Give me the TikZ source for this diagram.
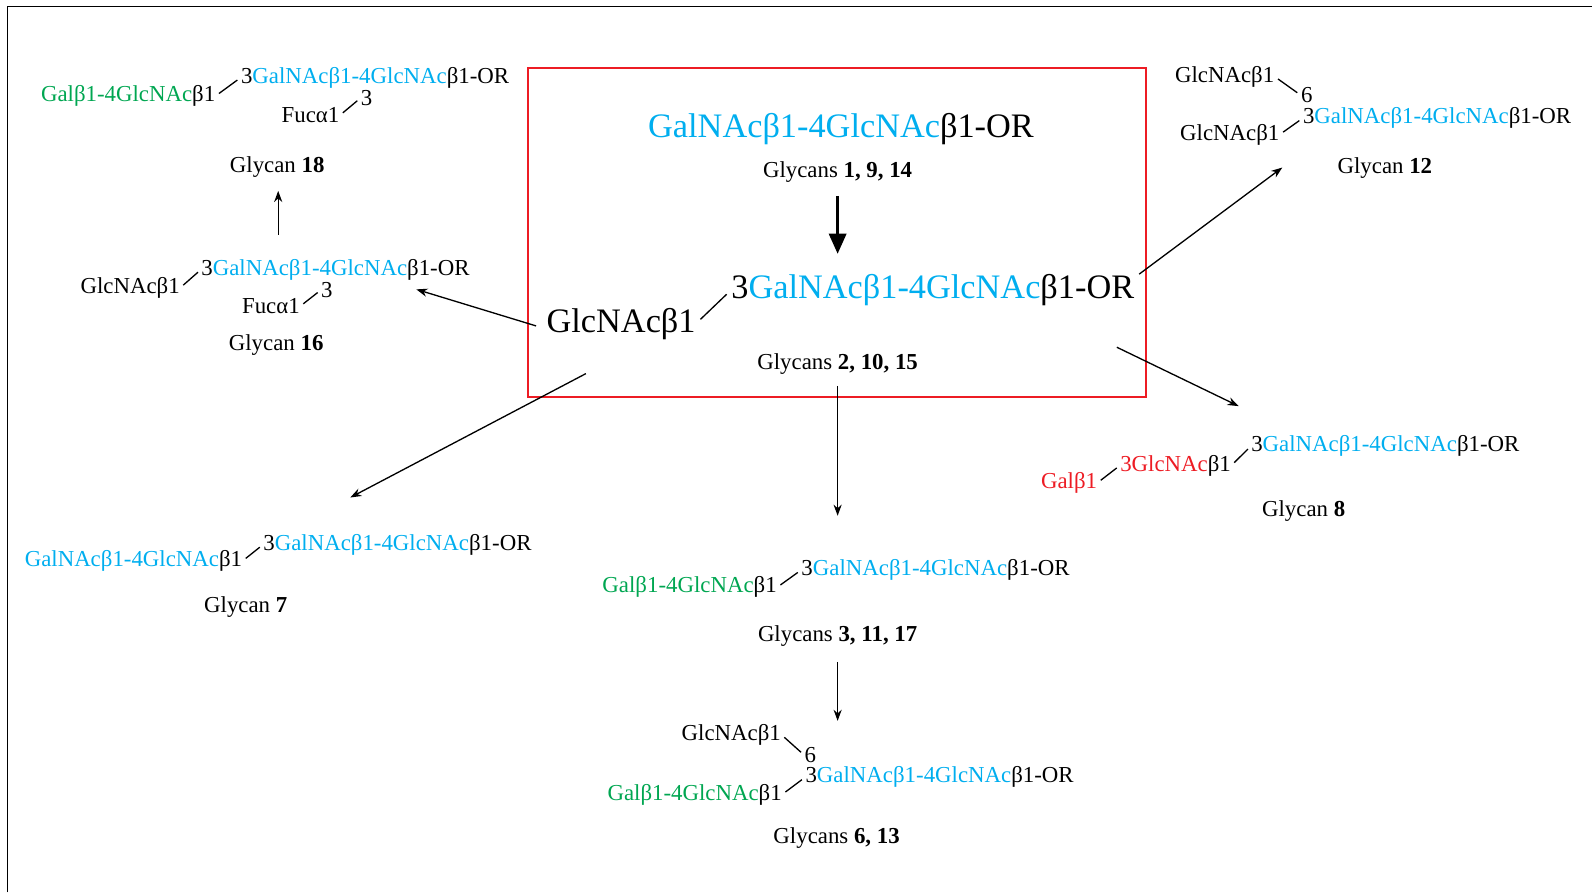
\documentclass[tikz,border=0pt]{standalone}
\usepackage{fontspec}
\setmainfont{Liberation Serif}
\usetikzlibrary{arrows.meta}
\definecolor{glcyan}{RGB}{0,174,239}
\definecolor{glgreen}{RGB}{0,166,81}
\definecolor{glred}{RGB}{237,28,36}
\newcommand{\cyn}[1]{\textcolor{glcyan}{#1}}
\newcommand{\grn}[1]{\textcolor{glgreen}{#1}}
\newcommand{\rdn}[1]{\textcolor{glred}{#1}}
\newcommand{\glcore}{3\cyn{GalNAcβ1-4GlcNAc}β1-OR}
\tikzset{
sugar/.style={inner sep=0pt, anchor=base west, font=\fontsize{11.25}{13}\selectfont},
bigsugar/.style={sugar, font=\fontsize{16.9}{20}\selectfont},
glabel/.style={inner sep=0pt, anchor=base, font=\fontsize{11.25}{13}\selectfont},
link/.style={line width=0.65pt, shorten <=2pt, shorten >=2pt},
arrow/.style={line width=0.65pt, -{Stealth[length=5.5pt,width=4pt]}},
bigarrow/.style={line width=1.5pt, -{Triangle[length=10pt,width=8.5pt]}},
redbox/.style={draw=glred, line width=0.8pt}
      }

\begin{document}
\begin{tikzpicture}[x=0.5pt,y=-0.5pt]
                \useasboundingbox (0,0) rectangle (1568,879);
                \draw[line width=0.5pt] (7,879) -- (7,6) -- (1568,6);
                % acceptor and first product
                \draw[redbox] (520,67) rectangle (1129,391);
                \node[bigsugar] (acc) at (638,135) {\cyn{GalNAcβ1-4GlcNAc}β1-OR};
                \node[glabel] (acclab) at (825,175) {Glycans \textbf{1, 9, 14}};
                \node[bigsugar] (prodarm) at (538,327) {GlcNAcβ1};
                \node[bigsugar] (prod) at (720,294) {\glcore};
                \node[glabel] (prodlab) at (825,364) {Glycans \textbf{2, 10, 15}};
                \draw[link, shorten <=3pt, shorten >=3pt] (prodarm.east) -- (prod.west);
                % glycan 18
                \node[sugar] (g18core) at (237,82) {\glcore};
                \node[sugar] (g18arm) at (40,100) {\grn{Galβ1-4GlcNAc}β1};
                \node[sugar] (g18fuc) at (277,121) {Fucα1};
                \node[sugar] (g18pos) at (355,104) {3};
                \node[glabel] (g18lab) at (273,170) {Glycan \textbf{18}};
                \draw[link] (g18arm.east) -- (g18core.west);
                \draw[link] (g18fuc.east) -- (g18pos.west);
                % glycan 16
                \node[sugar] (g16core) at (198,271) {\glcore};
                \node[sugar] (g16arm) at (79,289) {GlcNAcβ1};
                \node[sugar] (g16fuc) at (238,309) {Fucα1};
                \node[sugar] (g16pos) at (316,293) {3};
                \node[glabel] (g16lab) at (272,345) {Glycan \textbf{16}};
                \draw[link] (g16arm.east) -- (g16core.west);
                \draw[link] (g16fuc.east) -- (g16pos.west);
                % glycan 12
                \node[sugar] (g12a) at (1157,81) {GlcNAcβ1};
                \node[sugar] (g12pos) at (1281,101) {6};
                \node[sugar] (g12core) at (1283,122) {\glcore};
                \node[sugar] (g12b) at (1162,138) {GlcNAcβ1};
                \node[glabel] (g12lab) at (1364,171) {Glycan \textbf{12}};
                \draw[link] (g12a.east) -- (g12pos.west);
                \draw[link] (g12b.east) -- (g12core.west);
                % glycan 8
                \node[sugar] (g8gal) at (1025,481) {\rdn{Galβ1}};
                \node[sugar] (g8glc) at (1103,464) {\rdn{3GlcNAc}β1};
                \node[sugar] (g8core) at (1232,445) {\glcore};
                \node[glabel] (g8lab) at (1284,509) {Glycan \textbf{8}};
                \draw[link] (g8gal.east) -- (g8glc.west);
                \draw[link] (g8glc.east) -- (g8core.west);
                % glycan 7
                \node[sugar] (g7arm) at (24,558) {\cyn{GalNAcβ1-4GlcNAc}β1};
                \node[sugar] (g7core) at (259,542) {\glcore};
                \node[glabel] (g7lab) at (242,603) {Glycan \textbf{7}};
                \draw[link] (g7arm.east) -- (g7core.west);
                % glycans 3, 11, 17
                \node[sugar] (g3arm) at (593,584) {\grn{Galβ1-4GlcNAc}β1};
                \node[sugar] (g3core) at (789,567) {\glcore};
                \node[glabel] (g3lab) at (825,632) {Glycans \textbf{3, 11, 17}};
                \draw[link] (g3arm.east) -- (g3core.west);
                % glycans 6, 13
                \node[sugar] (g6a) at (671,729) {GlcNAcβ1};
                \node[sugar] (g6pos) at (792,751) {6};
                \node[sugar] (g6core) at (793,771) {\glcore};
                \node[sugar] (g6arm) at (598,788) {\grn{Galβ1-4GlcNAc}β1};
                \node[glabel] (g6lab) at (824,831) {Glycans \textbf{6, 13}};
                \draw[link] (g6a.east) -- (g6pos.west);
                \draw[link] (g6arm.east) -- (g6core.west);
                % reaction arrows
                \coordinate (s1) at (825,193);   \coordinate (e1) at (825,250);
                \coordinate (s3) at (825,380);   \coordinate (e3) at (825,508);
                \coordinate (s7) at (577,368);   \coordinate (e7) at (345,490);
                \coordinate (s16) at (528,321);  \coordinate (e16) at (410,285);
                \coordinate (s12) at (1122,270); \coordinate (e12) at (1263,165);
                \coordinate (s8) at (1100,342);  \coordinate (e8) at (1220,400);
                \coordinate (s18) at (274,231);  \coordinate (e18) at (274,188);
                \coordinate (s6) at (825,652);   \coordinate (e6) at (825,710);
                \draw[bigarrow] (s1) -- (e1);
                \draw[arrow] (s3) -- (e3);
                \draw[arrow] (s7) -- (e7);
                \draw[arrow] (s16) -- (e16);
                \draw[arrow] (s12) -- (e12);
                \draw[arrow] (s8) -- (e8);
                \draw[arrow] (s18) -- (e18);
                \draw[arrow] (s6) -- (e6);
            \end{tikzpicture}
\end{document}
